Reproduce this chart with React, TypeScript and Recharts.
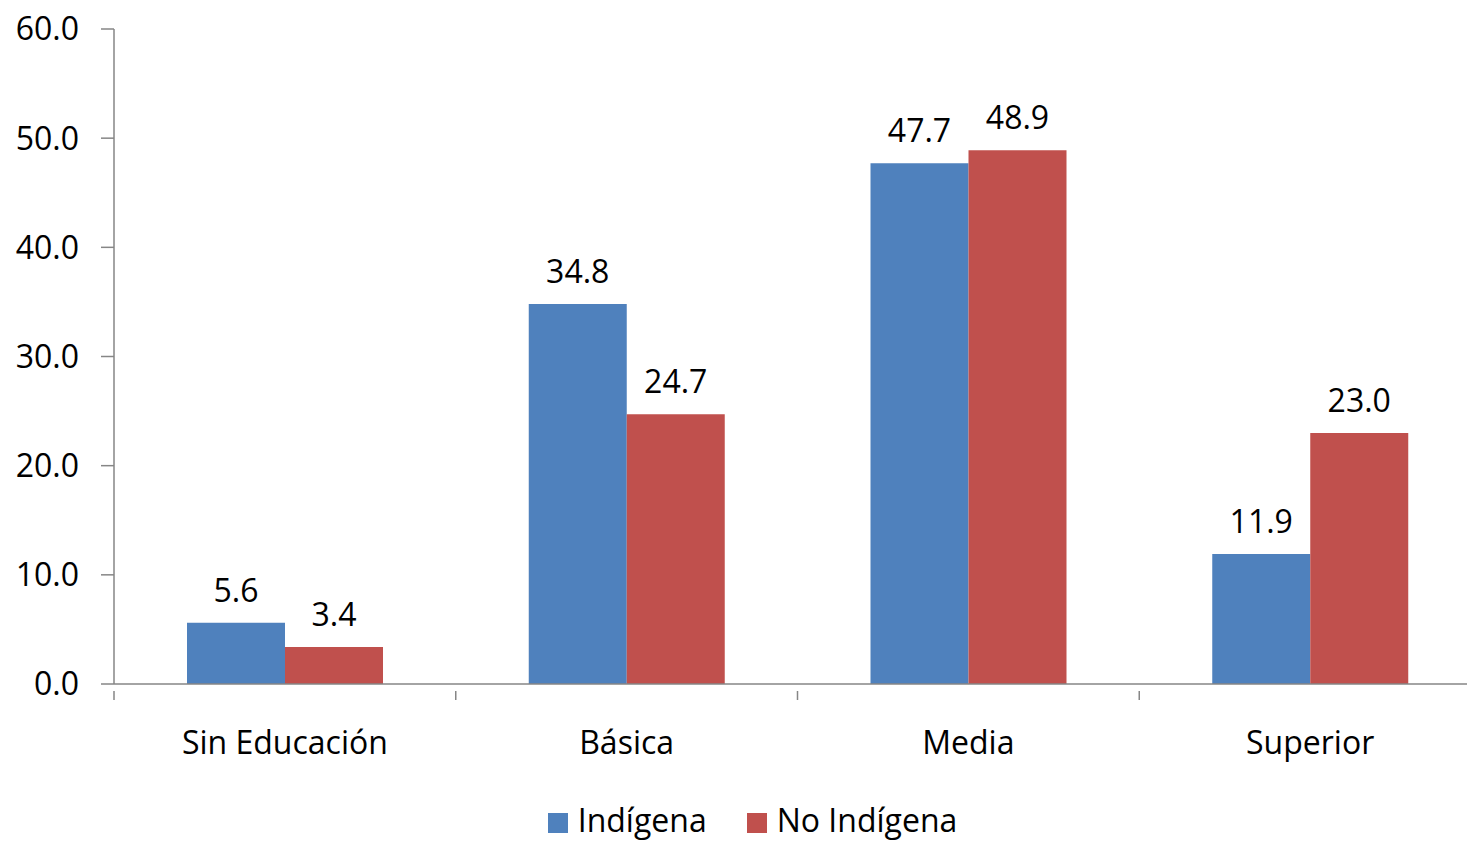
import React from "react";
import { BarChart, Bar, XAxis, YAxis, Legend, LabelList } from "recharts";

const categories = ["Sin Educación", "Básica", "Media", "Superior"];
const indigena = [5.6, 34.8, 47.7, 11.9];
const noIndigena = [3.4, 24.7, 48.9, 23.0];
const yTicks = [0, 10, 20, 30, 40, 50, 60];
const seriesNames = ["Indígena", "No Indígena"];

const data = categories.map((c, i) => ({ name: c, a: indigena[i], b: noIndigena[i] }));

const FONT = "'Open Sans', Lato, sans-serif";
const FS = 32;
const AXIS = "#868686";

const CategoryTick = (props: any) => {
  const { x, y, payload, index, visibleTicksCount } = props;
  const half = payload && typeof payload.offset === "number" && payload.offset > 0 ? payload.offset : 341.75 / 2;
  const axisY = y - 40;
  const isLast = index === (visibleTicksCount ?? categories.length) - 1;
  return (
    <g>
      <line x1={x - half} x2={x - half} y1={axisY} y2={axisY + 9} stroke={AXIS} strokeWidth={1.5} />
      {isLast && <line x1={x + half} x2={x + half} y1={axisY} y2={axisY + 9} stroke={AXIS} strokeWidth={1.5} />}
      <text x={x} y={y} textAnchor="middle" dominantBaseline="hanging" fill="#000" fontSize={FS} fontFamily={FONT} dy={-4}>
        {payload.value}
      </text>
    </g>
  );
};

export default function App() {
  return (
    <div style={{ position: "absolute", left: 0, top: 0, width: 1467, height: 841, overflow: "hidden", background: "#fff", fontFamily: FONT }}>
      <BarChart
        width={1500}
        height={841}
        data={data}
        margin={{ top: 29, right: 19, left: 0, bottom: 0 }}
        barCategoryGap={73}
        barGap={0}
      >
        <YAxis
          domain={[0, 60]}
          ticks={yTicks}
          width={114}
          tickFormatter={(v: number) => v.toFixed(1)}
          tick={{ fill: "#000", fontSize: FS, fontFamily: FONT }}
          tickSize={13}
          tickMargin={22}
          axisLine={{ stroke: AXIS, strokeWidth: 1.5 }}
          tickLine={{ stroke: AXIS, strokeWidth: 1.5 }}
          interval={0}
        />
        <XAxis
          dataKey="name"
          height={100}
          tick={<CategoryTick />}
          tickLine={false}
          tickMargin={41}
          interval={0}
          axisLine={{ stroke: AXIS, strokeWidth: 1.5 }}
        />
        <Legend
          verticalAlign="bottom"
          iconType="square"
          iconSize={20}
          height={57}
          wrapperStyle={{ bottom: -9, left: 17 }}
          formatter={(v: string, _e: any, i: number) => (
            <span style={{ color: "#000", fontSize: FS, fontFamily: FONT, marginLeft: 6, marginRight: i === 0 ? 30 : 0, position: "relative", top: 5 }}>{v}</span>
          )}
        />
        <Bar dataKey="a" name={seriesNames[0]} fill="#4F81BD" isAnimationActive={false}>
          <LabelList dataKey="a" position="top" offset={21} formatter={(v: number) => v.toFixed(1)} style={{ fill: "#000", fontSize: FS, fontFamily: FONT }} />
        </Bar>
        <Bar dataKey="b" name={seriesNames[1]} fill="#C0504D" isAnimationActive={false}>
          <LabelList dataKey="b" position="top" offset={21} formatter={(v: number) => v.toFixed(1)} style={{ fill: "#000", fontSize: FS, fontFamily: FONT }} />
        </Bar>
      </BarChart>
    </div>
  );
}
